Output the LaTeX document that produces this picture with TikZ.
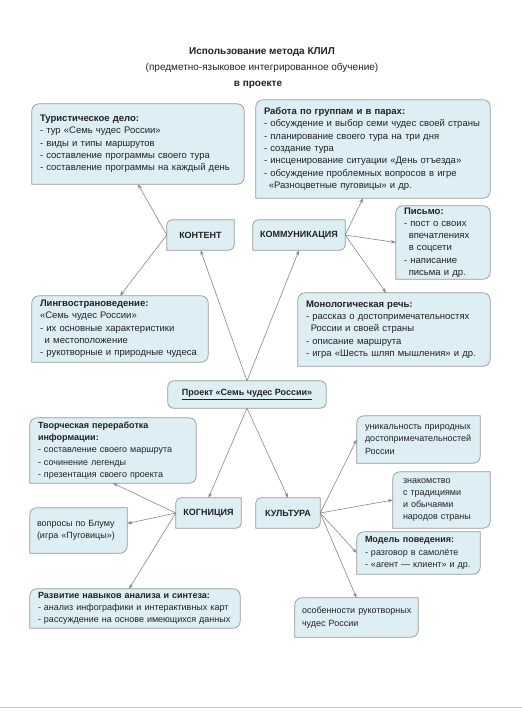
\documentclass[tikz,border=0pt]{standalone}
\usepackage{fontspec}
\setmainfont{Liberation Sans}
\definecolor{klilfill}{RGB}{221,239,245}
\definecolor{klilline}{RGB}{150,150,150}
\definecolor{klilarrow}{RGB}{135,135,135}
\definecolor{kliltext}{RGB}{34,34,34}
\usetikzlibrary{arrows.meta,positioning,backgrounds}

\begin{document}
\begin{tikzpicture}[x=1pt,y=-1pt,
  every node/.style={text=kliltext, font=\fontsize{9}{12.3}\selectfont},
  box/.style={inner xsep=8pt, inner ysep=0pt, align=left},
  bigbox/.style={box, font=\fontsize{9.5}{12.3}\selectfont},
  hub/.style={inner sep=0pt, align=center, font=\fontsize{9}{12.3}\selectfont\bfseries},
  heading/.style={inner sep=0pt, font=\fontsize{10}{12}\selectfont},
  frame/.style={draw=klilline, fill=klilfill, line width=0.7pt},
  link/.style={draw=klilarrow, line width=0.6pt, -{Stealth[length=5pt,width=3.5pt]}}]
  \useasboundingbox (0,0) rectangle (522,713);

  %% Title
  \node[heading, font=\fontsize{10}{12}\selectfont\bfseries] (t1) at (262,52) {Использование метода КЛИЛ};
  \node[heading] (t2) at (262,68) {(предметно-языковое интегрированное обучение)};
  \node[heading, font=\fontsize{10}{12}\selectfont\bfseries] (t3) at (258,85) {в проекте};

  %% Centre and hubs
  \node[hub, minimum width=158pt, minimum height=27pt] (proj) at (247,394.5) {\underline{Проект «Семь чудес России»}};
  \node[hub, minimum width=67pt, minimum height=30pt]  (kont) at (200.5,235) {КОНТЕНТ};
  \node[hub, minimum width=92pt, minimum height=30pt]  (komm) at (299,235) {КОММУНИКАЦИЯ};
  \node[hub, minimum width=65pt, minimum height=30pt]  (kogn) at (208.5,513) {КОГНИЦИЯ};
  \node[hub, minimum width=64pt, minimum height=30pt]  (kult) at (288,513) {КУЛЬТУРА};

  %% Leaves
  \node[bigbox, text width=196pt, minimum height=80pt] (tour) at (138,144)
    {\textbf{Туристическое дело:}\\- тур «Семь чудес России»\\- виды и типы маршрутов\\- составление программы своего тура\\- составление программы на каждый день};
  \node[bigbox, text width=218pt, minimum height=98pt] (grp) at (373,149)
    {\textbf{Работа по группам и в парах:}\\- обсуждение и выбор семи чудес своей страны\\- планирование своего тура на три дня\\- создание тура\\- инсценирование ситуации «День отъезда»\\- обсуждение проблемных вопросов в игре\\\hspace*{0.5em}«Разноцветные пуговицы» и др.};
  \node[bigbox, text width=78pt, minimum height=73pt] (letter) at (443,242.5)
    {\textbf{Письмо:}\\- пост о своих\\\hspace*{0.5em}впечатлениях\\\hspace*{0.5em}в соцсети\\- написание\\\hspace*{0.5em}письма и др.};
  \node[bigbox, text width=160pt, minimum height=66pt] (lingvo) at (120,329)
    {\textbf{Лингвострановедение:}\\«Семь чудес России»\\- их основные характеристики\\\hspace*{0.5em}и местоположение\\- рукотворные и природные чудеса};
  \node[bigbox, text width=176pt, minimum height=73pt] (mono) at (394,329.5)
    {\textbf{Монологическая речь:}\\- рассказ о достопримечательностях\\\hspace*{0.5em}России и своей страны\\- описание маршрута\\- игра «Шесть шляп мышления» и др.};
  \node[box, text width=150pt, minimum height=65pt] (creat) at (113,450.5)
    {\textbf{Творческая переработка}\\\textbf{информации:}\\- составление своего маршрута\\- сочинение легенды\\- презентация своего проекта};
  \node[box, text width=107pt, minimum height=47pt] (uniq) at (418.5,439.5)
    {уникальность природных\\достопримечательностей\\России};
  \node[box, inner xsep=10pt, text width=77pt, minimum height=56pt] (trad) at (441.5,500)
    {знакомство\\с традициями\\и обычаями\\народов страны};
  \node[box, inner xsep=7pt, text width=83pt, minimum height=45pt] (bloom) at (78.5,530.5)
    {вопросы по Блуму\\(игра «Пуговицы»)};
  \node[box, text width=107pt, minimum height=42pt] (behav) at (418.5,553)
    {\textbf{Модель поведения:}\\- разговор в самолёте\\- «агент — клиент» и др.};
  \node[box, text width=194pt, minimum height=39pt] (anal) at (135,608.5)
    {\textbf{Развитие навыков анализа и синтеза:}\\- анализ инфографики и интерактивных карт\\- рассуждение на основе имеющихся данных};
  \node[box, inner xsep=7pt, text width=109pt, minimum height=39pt] (craft) at (356.5,617.5)
    {особенности~рукотворных\\чудес России};

  %% Frames behind the text
  \begin{scope}[on background layer]
    \foreach \n in {tour,grp,letter,lingvo,mono,creat,anal}
      \draw[frame] (\n.west) [rounded corners=7pt] -- (\n.north west) -- (\n.north east) -- (\n.south east) -- (\n.south) [sharp corners] -- (\n.south west) -- cycle;
    \foreach \n in {uniq,trad,bloom,behav,craft}
      \draw[frame] (\n.west) [rounded corners=7pt] -- (\n.north west) -- (\n.north) [sharp corners] -- (\n.north east) -- (\n.east) [rounded corners=7pt] -- (\n.south east) -- (\n.south) [sharp corners] -- (\n.south west) -- cycle;
    \foreach \n in {kont,komm,kogn,kult}
      \draw[frame] (\n.west) [rounded corners=5pt] -- (\n.north west) -- (\n.north) [sharp corners] -- (\n.north east) -- (\n.east) [rounded corners=5pt] -- (\n.south east) -- (\n.south) [sharp corners] -- (\n.south west) -- cycle;
    \draw[frame, rounded corners=6pt] (proj.south west) rectangle (proj.north east);
  \end{scope}

  %% Connectors
  \draw[link] (proj.north) -- (kont.south);
  \draw[link] (proj.north) -- (komm.south);
  \draw[link] (proj.south) -- (kogn.north);
  \draw[link] (proj.south) -- (kult.north);

  \draw[link] (kont.west) -- (tour.south);
  \draw[link] (kont.west) -- (lingvo.north);

  \draw[link] (komm.east) -- ([xshift=-10pt]grp.south);
  \draw[link] (komm.east) -- (letter.west);
  \draw[link] (komm.east) -- ([xshift=-8pt]mono.north);

  \draw[link] (kogn.west) -- (creat.south);
  \draw[link] (kogn.west) -- ([yshift=7pt]bloom.east);
  \draw[link] (kogn.west) -- ([xshift=-6pt]anal.north);

  \draw[link] (kult.east) -- (uniq.west);
  \draw[link] (kult.east) -- (trad.west);
  \draw[link] (kult.east) -- (behav.west);
  \draw[link] (kult.east) -- (craft.north);

  \draw[klilline!50, line width=0.5pt] (0,707) -- (522,707);
\end{tikzpicture}
\end{document}
